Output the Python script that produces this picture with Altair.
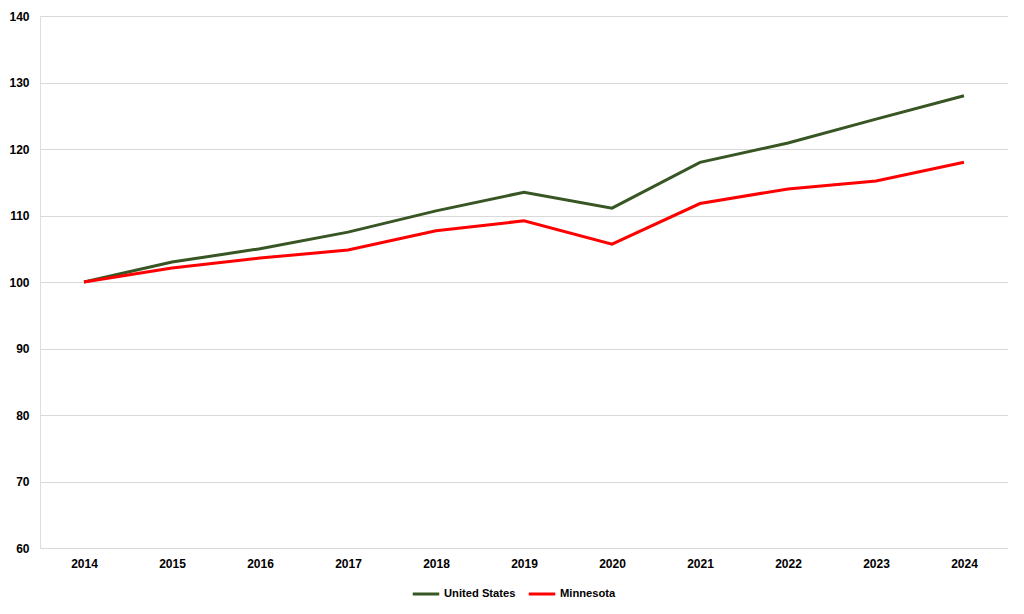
import altair as alt
import pandas as pd

years = ["2014", "2015", "2016", "2017", "2018", "2019", "2020", "2021", "2022", "2023", "2024"]
united_states = [100.0, 103.0, 105.0, 107.5, 110.7, 113.5, 111.1, 118.0, 120.9, 124.5, 128.0]
minnesota = [100.0, 102.1, 103.6, 104.8, 107.7, 109.2, 105.7, 111.8, 114.0, 115.2, 118.0]
series_names = ["United States", "Minnesota"]
series_colors = ["#375623", "#FF0000"]
y_ticks = [60, 70, 80, 90, 100, 110, 120, 130, 140]

rows = []
for i, yr in enumerate(years):
    rows.append({"year": yr, "series": "United States", "value": united_states[i]})
    rows.append({"year": yr, "series": "Minnesota", "value": minnesota[i]})
df = pd.DataFrame(rows)

FONT = "Liberation Sans"

chart = (
    alt.Chart(df)
    .mark_line(strokeWidth=3)
    .encode(
        x=alt.X(
            "year:O",
            sort=years,
            scale=alt.Scale(type="point", padding=0.5),
            axis=alt.Axis(
                title=None, labelAngle=0, domain=False, ticks=False, grid=False,
                labelPadding=10, labelFont=FONT, labelFontSize=12, labelFontWeight="bold",
                labelColor="#000000",
            ),
        ),
        y=alt.Y(
            "value:Q",
            scale=alt.Scale(domain=[60, 140], nice=False, zero=False),
            axis=alt.Axis(
                title=None, values=y_ticks, domain=False, ticks=False, grid=True,
                gridColor="#d9d9d9", gridWidth=1, labelPadding=11,
                labelFont=FONT, labelFontSize=12, labelFontWeight="bold", labelColor="#000000",
            ),
        ),
        color=alt.Color(
            "series:N",
            sort=series_names,
            scale=alt.Scale(domain=series_names, range=series_colors),
            legend=alt.Legend(
                title=None, orient="none", direction="horizontal",
                legendX=371, legendY=563, symbolType="stroke", symbolSize=700,
                symbolStrokeWidth=3, labelFont=FONT, labelFontSize=11.2,
                labelFontWeight="bold", labelColor="#000000", columnPadding=6,
                symbolOffset=0, labelOffset=3,
            ),
        ),
    )
    .properties(
        width=968,
        height=532,
        autosize=alt.AutoSizeParams(type="none"),
        padding={"left": 32, "top": 8, "right": 0, "bottom": 57},
    )
    .configure_view(stroke=None)
    .configure(background="#ffffff")
)

chart.save("out.html", embed_options={"renderer": "svg", "actions": False})
